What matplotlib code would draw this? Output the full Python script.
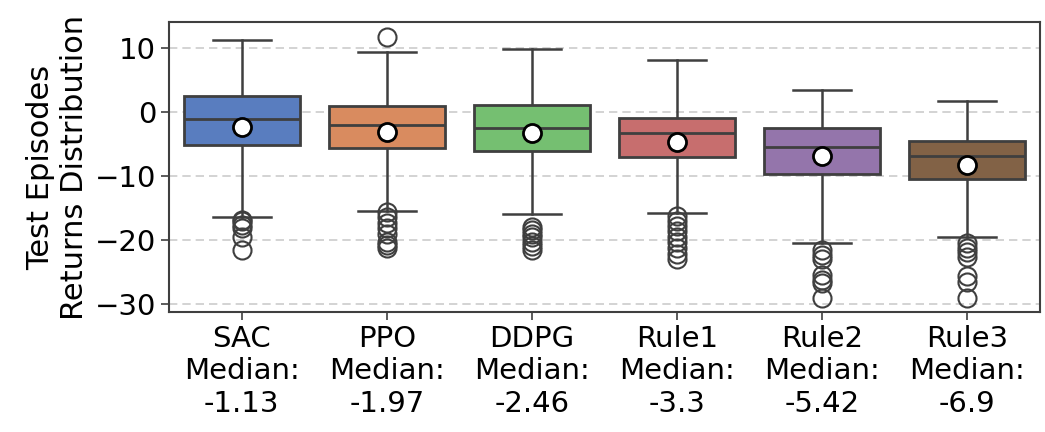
import matplotlib
matplotlib.use("Agg")
import matplotlib.pyplot as plt
import seaborn as sns

# values
algos = ["SAC", "PPO", "DDPG", "Rule1", "Rule2", "Rule3"]
medians = [-1.13, -1.97, -2.46, -3.3, -5.42, -6.9]
means = [-2.3, -3.07, -3.33, -4.64, -6.8, -8.28]
q1 = [-5.16, -5.57, -6.04, -6.98, -9.74, -10.47]
q3 = [2.5, 0.94, 1.1, -0.88, -2.45, -4.48]
whislo = [-16.35, -15.4, -16.0, -15.8, -20.5, -19.5]
whishi = [11.25, 9.4, 9.95, 8.1, 3.44, 1.77]
fliers = [
    [-16.8, -17.1, -17.6, -18.2, -19.5, -21.5],
    [11.8, -15.6, -16.4, -17.4, -18.2, -19.0, -20.3, -20.8, -21.3],
    [-17.9, -18.4, -19.0, -19.6, -20.3, -21.0, -21.6],
    [-16.2, -17.0, -17.8, -18.6, -19.5, -20.3, -21.2, -22.2, -23.0],
    [-21.6, -22.4, -23.0, -25.5, -26.2, -26.7, -29.0],
    [-20.5, -21.2, -21.8, -22.7, -25.7, -26.5, -29.1],
]
ylabel = "Test Episodes\nReturns Distribution"

colors = [sns.desaturate(c, 0.75) for c in sns.color_palette("muted", 6)]
line_col = "#3f3f3f"
fs = 21

stats = []
for i in range(len(algos)):
    stats.append(dict(med=medians[i], mean=means[i], q1=q1[i], q3=q3[i],
                      whislo=whislo[i], whishi=whishi[i], fliers=fliers[i]))

fig = plt.figure(figsize=(10.45, 4.32), dpi=100)
ax = fig.add_axes([0.162, 0.278, 0.833, 0.671])

ax.yaxis.grid(True, linestyle=(0, (5, 3)), color="#cccccc", linewidth=1.2, zorder=0)
ax.set_axisbelow(True)

bp = ax.bxp(stats, positions=range(len(algos)), widths=0.8, patch_artist=True,
            showmeans=True, showfliers=True,
            boxprops=dict(edgecolor=line_col, linewidth=2),
            medianprops=dict(color=line_col, linewidth=2),
            whiskerprops=dict(color=line_col, linewidth=1.8),
            capprops=dict(color=line_col, linewidth=1.8),
            meanprops=dict(marker="o", markerfacecolor="white", markeredgecolor="black",
                           markersize=13, markeredgewidth=2),
            flierprops=dict(marker="o", markerfacecolor="none", markeredgecolor=line_col,
                            markersize=13, markeredgewidth=1.5))
for patch, c in zip(bp["boxes"], colors):
    patch.set_facecolor(c)
for w in bp["whiskers"]:
    w.set_zorder(1)

labels = [f"{a}\nMedian:\n{m}" for a, m in zip(algos, medians)]
ax.set_xticks(range(len(algos)))
ax.set_xticklabels(labels, fontsize=fs)
ax.set_xlim(-0.5, len(algos) - 0.5)
ax.set_ylim(-31.25, 14.1)
ax.set_yticks([10, 0, -10, -20, -30])
ax.tick_params(axis="y", labelsize=fs, length=6, width=1.2, color=line_col)
ax.tick_params(axis="x", length=6, width=1.2, color=line_col)
ax.set_ylabel(ylabel, fontsize=22, labelpad=4)
for s in ax.spines.values():
    s.set_color(line_col)
    s.set_linewidth(1.5)

fig.savefig("out.png", dpi=100)
